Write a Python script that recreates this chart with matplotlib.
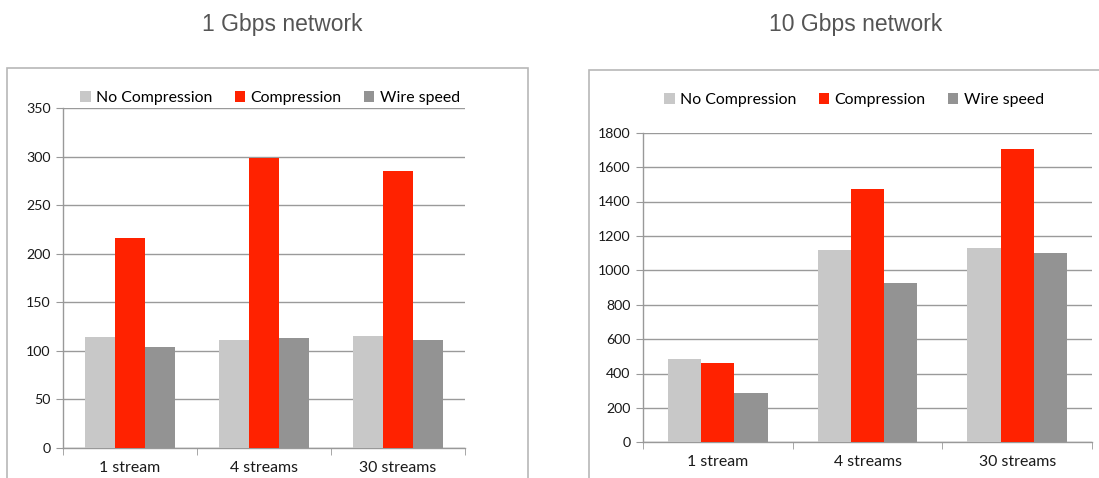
import matplotlib.pyplot as plt
from matplotlib.patches import Rectangle
import numpy as np

# ============ data ============
categories = ['1 stream', '4 streams', '30 streams']
series_names = ['No Compression', 'Compression', 'Wire speed']
series_colors = ['#c8c8c8', '#ff2200', '#939393']

gbps1_no_comp = [114, 111, 115]
gbps1_comp = [216, 299, 285]
gbps1_wire = [104, 113, 111]

gbps10_no_comp = [482, 1118, 1128]
gbps10_comp = [459, 1470, 1707]
gbps10_wire = [287, 924, 1103]

W, H = 1099, 478
plt.rcParams['font.family'] = ['Lato', 'DejaVu Sans']

fig = plt.figure(figsize=(W / 100, H / 100), dpi=100)


def px_axes(x0, x1, y_top, y_bot):
    return fig.add_axes([x0 / W, (H - y_bot) / H, (x1 - x0) / W, (y_bot - y_top) / H])


def draw_panel(ax, data, ymax, step, legend_y, legend_x):
    x = np.arange(len(categories))
    bw = 0.222
    for k, (vals, name, col) in enumerate(zip(data, series_names, series_colors)):
        ax.bar(x + (k - 1) * bw, vals, width=bw, color=col, label=name, zorder=3)
    ax.set_xlim(-0.5, len(categories) - 0.5)
    ax.set_ylim(0, ymax)
    ax.set_yticks(np.arange(0, ymax + 1, step))
    ax.set_xticks(x)
    ax.set_xticklabels(categories, fontsize=11.4, color='#1a1a1a')
    ax.set_xticks(np.arange(-0.5, len(categories), 1.0), minor=True)
    ax.tick_params(axis='x', which='major', length=0, pad=9)
    ax.tick_params(axis='x', which='minor', length=5, color='#999999', direction='out')
    ax.tick_params(axis='y', length=5, color='#999999', labelsize=10.2, labelcolor='#1a1a1a', pad=4)
    ax.yaxis.grid(True, color='#9a9a9a', linewidth=1.0, zorder=0)
    ax.set_axisbelow(True)
    for s in ['top', 'right']:
        ax.spines[s].set_visible(False)
    for s in ['left', 'bottom']:
        ax.spines[s].set_color('#999999')
        ax.spines[s].set_linewidth(1.0)
    ax.set_facecolor('none')
    ax.legend(loc='center', bbox_to_anchor=(legend_x, legend_y), ncol=3, frameon=False,
              fontsize=11.4, handlelength=0.65, handleheight=0.65, handletextpad=0.35,
              columnspacing=1.4, borderaxespad=0)


# outer frames
fig.patches.append(Rectangle((7 / W, -0.05), (528 - 7) / W, (H - 68) / H + 0.05,
                             transform=fig.transFigure, fill=False,
                             edgecolor='#b8b8b8', linewidth=1.2))
fig.patches.append(Rectangle((589 / W, -0.05), 0.5, (H - 70) / H + 0.05,
                             transform=fig.transFigure, fill=False,
                             edgecolor='#b8b8b8', linewidth=1.2))

ax1 = px_axes(63, 465, 108, 448)
draw_panel(ax1, [gbps1_no_comp, gbps1_comp, gbps1_wire], 350, 50, 1.03, 0.515)

ax2 = px_axes(643, 1092, 132.7, 442.3)
draw_panel(ax2, [gbps10_no_comp, gbps10_comp, gbps10_wire], 1800, 200, 1.105, 0.47)

fig.text(282 / W, (H - 25) / H, '1 Gbps network', ha='center', va='center',
         fontsize=16.5, color='#555555', family=['Liberation Sans'])
fig.text(856 / W, (H - 25) / H, '10 Gbps network', ha='center', va='center',
         fontsize=16.5, color='#555555', family=['Liberation Sans'])

fig.savefig('out.png', dpi=100)
